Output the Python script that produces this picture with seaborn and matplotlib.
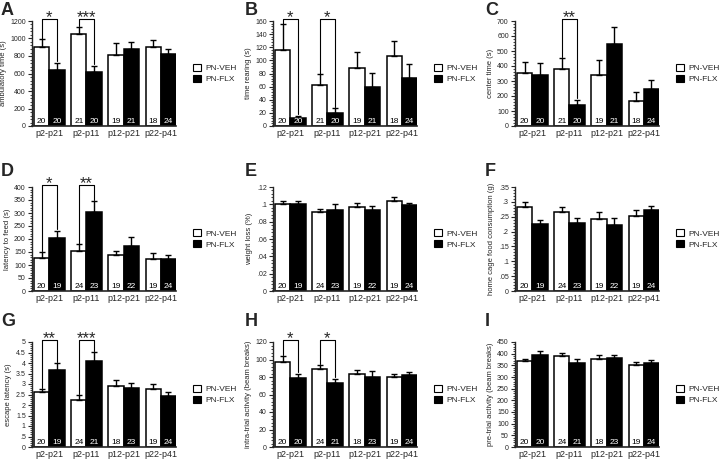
import numpy as np
import pandas as pd
import matplotlib
matplotlib.use("Agg")
import matplotlib.pyplot as plt
import seaborn as sns
from matplotlib.patches import Patch
from matplotlib.ticker import MultipleLocator, AutoMinorLocator, FuncFormatter

periods = ["p2-p21", "p2-p11", "p12-p21", "p22-p41"]
groups = ["PN-VEH", "PN-FLX"]

# A - ambulatory time
a_veh = [905, 1055, 815, 900]
a_veh_err = [85, 80, 130, 85]
a_flx = [645, 615, 880, 825]
a_flx_err = [75, 75, 85, 60]
a_n_veh = [20, 21, 19, 18]
a_n_flx = [20, 20, 21, 24]
a_sig = {0: "*", 1: "***"}

# B - time rearing
b_veh = [116, 62, 88, 107]
b_veh_err = [39, 17, 25, 22]
b_flx = [12, 20, 60, 73]
b_flx_err = [4, 7, 21, 22]
b_n_veh = [20, 21, 19, 18]
b_n_flx = [20, 20, 21, 24]
b_sig = {0: "*", 1: "*"}

# C - center time
c_veh = [355, 378, 340, 168]
c_veh_err = [75, 77, 102, 60]
c_flx = [342, 138, 550, 245]
c_flx_err = [80, 38, 112, 60]
c_n_veh = [20, 21, 19, 18]
c_n_flx = [20, 20, 21, 24]
c_sig = {1: "**"}

# D - latency to feed
d_veh = [128, 153, 137, 122]
d_veh_err = [22, 27, 17, 25]
d_flx = [203, 302, 175, 124]
d_flx_err = [28, 43, 33, 15]
d_n_veh = [20, 24, 19, 19]
d_n_flx = [19, 23, 22, 24]
d_sig = {0: "*", 1: "**"}

# E - weight loss
e_veh = [0.100, 0.091, 0.097, 0.104]
e_veh_err = [0.004, 0.004, 0.004, 0.004]
e_flx = [0.100, 0.093, 0.093, 0.099]
e_flx_err = [0.004, 0.007, 0.005, 0.003]
e_n_veh = [20, 24, 19, 19]
e_n_flx = [19, 23, 22, 24]
e_sig = {}

# F - home cage food consumption
f_veh = [0.283, 0.265, 0.242, 0.253]
f_veh_err = [0.018, 0.017, 0.025, 0.018]
f_flx = [0.225, 0.229, 0.222, 0.271]
f_flx_err = [0.014, 0.018, 0.023, 0.016]
f_n_veh = [20, 24, 19, 19]
f_n_flx = [19, 23, 22, 24]
f_sig = {}

# G - escape latency
g_veh = [2.6, 2.25, 2.9, 2.75]
g_veh_err = [0.18, 0.25, 0.28, 0.27]
g_flx = [3.65, 4.08, 2.8, 2.42]
g_flx_err = [0.33, 0.43, 0.25, 0.22]
g_n_veh = [20, 24, 18, 19]
g_n_flx = [19, 21, 23, 24]
g_sig = {0: "**", 1: "***"}

# H - intra-trial activity
h_veh = [97, 89, 84, 80]
h_veh_err = [7, 5, 4, 4]
h_flx = [79, 73, 80, 82]
h_flx_err = [5, 5, 7, 4]
h_n_veh = [20, 24, 18, 19]
h_n_flx = [20, 21, 23, 24]
h_sig = {0: "*", 1: "*"}

# I - pre-trial activity
i_veh = [367, 390, 378, 350]
i_veh_err = [12, 12, 15, 15]
i_flx = [393, 360, 380, 360]
i_flx_err = [18, 17, 15, 12]
i_n_veh = [20, 24, 18, 19]
i_n_flx = [20, 21, 23, 24]
i_sig = {}

panels = [
    ("A", "ambulatory time (s)", 1200, 200, a_veh, a_veh_err, a_flx, a_flx_err, a_n_veh, a_n_flx, a_sig),
    ("B", "time rearing (s)", 160, 20, b_veh, b_veh_err, b_flx, b_flx_err, b_n_veh, b_n_flx, b_sig),
    ("C", "center time (s)", 700, 100, c_veh, c_veh_err, c_flx, c_flx_err, c_n_veh, c_n_flx, c_sig),
    ("D", "latency to feed (s)", 400, 50, d_veh, d_veh_err, d_flx, d_flx_err, d_n_veh, d_n_flx, d_sig),
    ("E", "weight loss (%)", 0.12, 0.02, e_veh, e_veh_err, e_flx, e_flx_err, e_n_veh, e_n_flx, e_sig),
    ("F", "home cage food consumption (g)", 0.35, 0.05, f_veh, f_veh_err, f_flx, f_flx_err, f_n_veh, f_n_flx, f_sig),
    ("G", "escape latency (s)", 5, 0.5, g_veh, g_veh_err, g_flx, g_flx_err, g_n_veh, g_n_flx, g_sig),
    ("H", "intra-trial activity (beam breaks)", 120, 20, h_veh, h_veh_err, h_flx, h_flx_err, h_n_veh, h_n_flx, h_sig),
    ("I", "pre-trial activity (beam breaks)", 450, 50, i_veh, i_veh_err, i_flx, i_flx_err, i_n_veh, i_n_flx, i_sig),
]

sns.set_style("ticks")
plt.rcParams['font.family'] = ['Liberation Sans', 'DejaVu Sans']

W, H = 720, 459
fig = plt.figure(figsize=(7.2, 4.59), dpi=100)

col_left = [32, 273, 515]
ax_w = 144
row_tb = [(21, 126), (187, 291), (342, 447)]
letter_x = [1, 245, 485]
letter_y = [2, 163, 313]


def fmt_tick(v, pos=None):
    s = f"{round(v, 6):g}"
    if s.startswith("0."):
        s = s[1:]
    return s


for idx, (letter, ylabel, ymax, ystep, veh, veh_err, flx, flx_err, n_veh, n_flx, sig) in enumerate(panels):
    r, c = divmod(idx, 3)
    top, bot = row_tb[r]
    left = col_left[c]
    ax = fig.add_axes([left / W, 1 - bot / H, ax_w / W, (bot - top) / H])

    df = pd.DataFrame({
        "period": periods * 2,
        "group": [groups[0]] * 4 + [groups[1]] * 4,
        "value": list(veh) + list(flx),
    })
    sns.barplot(data=df, x="period", y="value", hue="group", order=periods,
                hue_order=groups, palette={"PN-VEH": "white", "PN-FLX": "black"},
                edgecolor="black", linewidth=1.1, width=0.82, gap=0,
                errorbar=None, legend=False, ax=ax, zorder=2)

    bars = list(ax.patches)
    veh_bars = sorted([b for b in bars if b.get_facecolor()[0] > 0.5], key=lambda b: b.get_x())
    flx_bars = sorted([b for b in bars if b.get_facecolor()[0] < 0.5], key=lambda b: b.get_x())
    veh_x = [b.get_x() + b.get_width() / 2 for b in veh_bars]
    flx_x = [b.get_x() + b.get_width() / 2 for b in flx_bars]

    for xs, bs, errs in ((veh_x, veh_bars, veh_err), (flx_x, flx_bars, flx_err)):
        hs = [b.get_height() for b in bs]
        ax.errorbar(xs, hs, yerr=[np.zeros(len(hs)), errs], fmt="none",
                    ecolor="black", elinewidth=1, capsize=2.5, capthick=1, zorder=3)

    for x, n in zip(veh_x, n_veh):
        ax.annotate(str(n), (x, 0), xytext=(0, 0.6), textcoords="offset points",
                    ha="center", va="bottom", fontsize=6, color="black", zorder=4)
    for x, n in zip(flx_x, n_flx):
        ax.annotate(str(n), (x, 0), xytext=(0, 0.6), textcoords="offset points",
                    ha="center", va="bottom", fontsize=6, color="white", zorder=4)

    for i, stars in sig.items():
        xv, xf = veh_x[i], flx_x[i]
        y1 = veh[i] + veh_err[i] + 0.005 * ymax
        y2 = flx[i] + flx_err[i] + 0.015 * ymax
        yt = ymax * 1.02
        ax.plot([xv, xv, xf, xf], [y1, yt, yt, y2], color="black", lw=0.8,
                clip_on=False, zorder=5)
        ax.annotate(stars, ((xv + xf) / 2, yt), xytext=(0, -2.5),
                    textcoords="offset points", ha="center", va="baseline",
                    fontsize=12, annotation_clip=False)

    ax.set_xlim(-0.465, 3.41)
    ax.set_ylim(0, ymax)
    ax.yaxis.set_major_locator(MultipleLocator(ystep))
    ax.yaxis.set_minor_locator(AutoMinorLocator(5))
    ax.yaxis.set_major_formatter(FuncFormatter(fmt_tick))
    ax.set_xlabel("")
    ax.set_ylabel(ylabel, fontsize=5.5, labelpad=2.5)
    sns.despine(ax=ax)
    ax.spines["left"].set_linewidth(1)
    ax.spines["bottom"].set_linewidth(1.2)
    ax.tick_params(axis="x", length=0, labelsize=6.5, pad=2)
    ax.tick_params(axis="y", which="major", length=3, width=0.8, labelsize=5, pad=1.5)
    ax.tick_params(axis="y", which="minor", length=1.5, width=0.6)

    handles = [Patch(facecolor="white", edgecolor="black", linewidth=0.8),
               Patch(facecolor="black", edgecolor="black", linewidth=0.8)]
    ax.legend(handles, groups, loc="center left", bbox_to_anchor=(1.12, 0.5),
              frameon=False, fontsize=6, borderpad=0, borderaxespad=0,
              handlelength=0.9, handleheight=0.9, handletextpad=0.5,
              labelspacing=0.3)

    fig.text(letter_x[c] / W, 1 - letter_y[r] / H, letter, fontsize=13,
             fontweight="bold", va="top", ha="left")

fig.savefig("out.png", dpi=100)
